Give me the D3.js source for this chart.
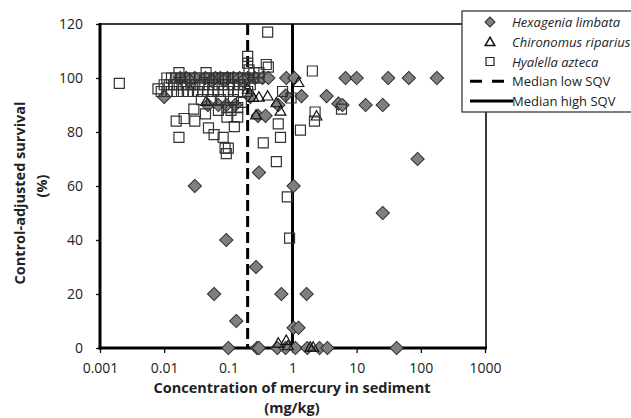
<!DOCTYPE html>
<html>
<head>
<meta charset="utf-8">
<script src="https://cdn.jsdelivr.net/npm/d3@7"></script>
<style>
  body { margin: 0; background: #fff; }
  svg text { font-family: "Open Sans", "Noto Sans", sans-serif; fill: #222; }
</style>
</head>
<body>
<div id="chart"></div>
<script>
// data (mg/kg, % survival)
const hexagenia = [
  [0.0178, 100], [0.022, 100], [0.03, 100], [0.044, 100], [0.063, 100], [0.075, 100],
  [0.097, 100], [0.12, 100], [0.15, 100], [0.2, 100], [0.26, 100], [0.34, 100],
  [0.42, 100], [0.8, 100], [1.07, 100], [6.7, 100], [10, 100], [31, 100], [65, 100], [178, 100],
  [0.025, 99], [0.055, 99], [0.085, 99], [0.17, 99],
  [0.01, 93], [0.22, 93], [0.78, 93.5], [1.38, 93.3], [3.4, 93.3],
  [0.048, 90], [0.07, 90], [0.093, 90], [0.128, 90], [0.6, 90], [5.2, 90.5], [6, 90],
  [13.8, 90], [25.5, 90], [0.29, 86], [0.38, 86],
  [89, 70], [25.5, 50], [0.3, 65], [0.03, 60], [1.04, 60], [0.093, 40], [0.27, 30],
  [0.06, 20], [0.67, 20], [1.66, 20], [0.133, 10], [1.04, 7.5], [1.24, 7.5],
  [0.1, 0], [0.28, 0], [0.3, 0], [0.58, 0], [0.78, 0], [1.11, 0], [1.7, 0], [2.64, 0], [3.5, 0], [42, 0]
]

const chironomus = [
  [0.045, 91], [0.2, 95.5], [0.245, 92.5], [0.27, 86], [0.3, 92.6], [0.41, 93], [0.56, 90.5],
  [0.65, 87.4], [1.24, 98], [2.37, 85.6], [0.6, 1.5], [0.8, 2.5], [0.85, 0.5], [1.9, 0], [2.1, 0]
]

const hyalella = [
  [0.002, 98], [0.008, 96], [0.41, 117], [0.0154, 84], [0.0205, 85], [0.029, 88.5], [0.03, 84],
  [0.044, 86.7], [0.017, 78], [0.049, 81.5], [0.06, 79], [0.083, 78], [0.124, 82], [0.089, 74],
  [0.1, 74], [0.093, 72], [0.35, 76], [0.65, 78], [0.56, 69], [0.83, 56], [0.9, 40.7],
  [1.33, 80.7], [2.04, 102.6], [2.25, 87.4], [2.2, 84], [5.8, 88.5], [0.6, 83], [0.7, 95],
  [0.95, 92.6], [0.42, 104],
  [0.2, 108], [0.2, 105.5], [0.21, 103], [0.39, 105], [0.3, 102], [0.25, 102], [0.017, 102], [0.045, 102],
  [0.011, 100], [0.013, 100], [0.015, 100], [0.018, 100], [0.021, 100], [0.025, 100], [0.03, 100],
  [0.036, 100], [0.045, 100], [0.05, 100], [0.06, 100], [0.07, 100], [0.08, 100], [0.09, 100],
  [0.1, 100], [0.12, 100], [0.14, 100], [0.17, 100], [0.2, 100], [0.25, 100], [0.3, 100],
  [0.01, 97.5], [0.012, 97.5], [0.014, 97.5], [0.016, 97.5], [0.019, 97.5], [0.022, 97.5],
  [0.026, 97.5], [0.03, 97.5], [0.035, 97.5], [0.04, 97.5], [0.05, 97.5], [0.06, 97.5],
  [0.07, 97.5], [0.08, 97.5], [0.1, 97.5], [0.12, 97.5], [0.15, 97.5], [0.18, 97.5], [0.22, 97.5],
  [0.009, 95], [0.011, 95], [0.013, 95], [0.016, 95], [0.02, 95], [0.024, 95], [0.028, 95],
  [0.033, 95], [0.04, 95], [0.048, 95], [0.058, 95], [0.07, 95], [0.085, 95], [0.1, 95],
  [0.12, 95], [0.14, 95], [0.2, 95],
  [0.095, 89], [0.14, 89], [0.095, 85.5], [0.14, 85.5], [0.11, 88], [0.07, 88],
  [0.055, 92], [0.075, 92], [0.12, 92], [0.16, 91], [0.038, 92]
]

const yTicks = [0, 20, 40, 60, 80, 100, 120]
const xTicks = [0.001, 0.01, 0.1, 1, 10, 100, 1000]
const xTickLabels = ['0.001', '0.01', '0.1', '1', '10', '100', '1000']
const lowSQV = 0.2
const highSQV = 1

const legendItems = ['Hexagenia limbata', 'Chironomus riparius', 'Hyalella azteca', 'Median low SQV', 'Median high SQV']

// layout
const width = 631
const height = 418
const plotLeft = 100, plotRight = 485, plotTop = 24, plotBottom = 348

const svg = d3.select('#chart').append('svg')
  .attr('width', width)
  .attr('height', height)

const x = d3.scaleLog().domain([0.001, 1000]).range([plotLeft, plotRight])
const y = d3.scaleLinear().domain([0, 120]).range([plotBottom, plotTop])

// plot frame (top / right)
svg.append('path')
  .attr('d', `M${plotLeft},${plotTop}H${plotRight + 1}V${plotBottom}`)
  .attr('fill', 'none')
  .attr('stroke', '#3a3a3a')
  .attr('stroke-width', 2)

// axes
const yAxis = svg.append('g')
  .attr('transform', `translate(${plotLeft},0)`)
  .call(d3.axisLeft(y).tickValues(yTicks).tickSize(4).tickSizeOuter(0).tickPadding(13))
yAxis.select('.domain').remove()
yAxis.selectAll('line').attr('stroke', '#111').attr('stroke-width', 1.3)
yAxis.selectAll('text').style('font-size', '14px').attr('fill', '#2a2a2a')

const xAxis = svg.append('g')
  .attr('transform', `translate(0,${plotBottom})`)
  .call(d3.axisBottom(x).tickValues(xTicks).tickFormat((d, i) => xTickLabels[i]).tickSize(5).tickSizeOuter(0).tickPadding(10))
xAxis.select('.domain').remove()
xAxis.selectAll('line').attr('stroke', '#111').attr('stroke-width', 1.3)
xAxis.selectAll('text').style('font-size', '14px').attr('fill', '#2a2a2a')

svg.append('line')
  .attr('x1', plotLeft).attr('x2', plotLeft).attr('y1', plotTop - 1).attr('y2', plotBottom + 1.5)
  .attr('stroke', '#000').attr('stroke-width', 3)
svg.append('line')
  .attr('x1', plotLeft - 1.5).attr('x2', plotRight + 2).attr('y1', plotBottom).attr('y2', plotBottom)
  .attr('stroke', '#000').attr('stroke-width', 3)

// SQV lines
svg.append('line')
  .attr('x1', x(lowSQV)).attr('x2', x(lowSQV)).attr('y1', plotTop).attr('y2', plotBottom)
  .attr('stroke', '#000').attr('stroke-width', 3)
  .attr('stroke-dasharray', '11,5')
svg.append('line')
  .attr('x1', x(highSQV)).attr('x2', x(highSQV)).attr('y1', plotTop).attr('y2', plotBottom)
  .attr('stroke', '#000').attr('stroke-width', 3)

// markers
const diamond = d3.symbol(d3.symbolSquare, 88)
const square = d3.symbol(d3.symbolSquare, 100)
const triangle = d3.symbol(d3.symbolTriangle, 50)

svg.append('g').selectAll('path')
  .data(hexagenia)
  .enter().append('path')
  .attr('d', diamond)
  .attr('transform', d => `translate(${x(d[0])},${y(d[1])}) rotate(45)`)
  .attr('fill', '#7f7f7f')
  .attr('stroke', '#2b2b2b')
  .attr('stroke-width', 1)

svg.append('g').selectAll('path')
  .data(chironomus)
  .enter().append('path')
  .attr('d', triangle)
  .attr('transform', d => `translate(${x(d[0])},${y(d[1])})`)
  .attr('fill', 'none')
  .attr('stroke', '#111')
  .attr('stroke-width', 1.2)

svg.append('g').selectAll('path')
  .data(hyalella)
  .enter().append('path')
  .attr('d', square)
  .attr('transform', d => `translate(${x(d[0])},${y(d[1])})`)
  .attr('fill', 'none')
  .attr('stroke', '#333')
  .attr('stroke-width', 1.2)

// axis titles
svg.append('text')
  .attr('x', 292).attr('y', 393)
  .attr('text-anchor', 'middle')
  .style('font-size', '14.5px').style('font-weight', 'bold')
  .text('Concentration of mercury in sediment')
svg.append('text')
  .attr('x', 292).attr('y', 413)
  .attr('text-anchor', 'middle')
  .style('font-size', '14.5px').style('font-weight', 'bold')
  .text('(mg/kg)')

svg.append('text')
  .attr('transform', 'translate(25,193) rotate(-90)')
  .attr('text-anchor', 'middle')
  .style('font-size', '14.5px').style('font-weight', 'bold')
  .text('Control-adjusted survival')
svg.append('text')
  .attr('transform', 'translate(47,186) rotate(-90)')
  .attr('text-anchor', 'middle')
  .style('font-size', '14.5px').style('font-weight', 'bold')
  .text('(%)')

// legend
const legend = svg.append('g')
legend.append('rect')
  .attr('x', 462).attr('y', 11).attr('width', 200).attr('height', 101)
  .attr('fill', '#fff').attr('stroke', '#3a3a3a').attr('stroke-width', 1.3)

const rowY = d3.scalePoint().domain(legendItems).range([22, 101])

legendItems.forEach(function (name, i) {
  const ly = rowY(name)
  if (i === 0)
    legend.append('path').attr('d', d3.symbol(d3.symbolSquare, 50))
      .attr('transform', `translate(490,${ly}) rotate(45)`)
      .attr('fill', '#7f7f7f').attr('stroke', '#2b2b2b')
  else if (i === 1)
    legend.append('path').attr('d', d3.symbol(d3.symbolTriangle, 40))
      .attr('transform', `translate(490,${ly + 1})`)
      .attr('fill', 'none').attr('stroke', '#111').attr('stroke-width', 1.5)
  else if (i === 2)
    legend.append('path').attr('d', d3.symbol(d3.symbolSquare, 64))
      .attr('transform', `translate(490,${ly})`)
      .attr('fill', 'none').attr('stroke', '#222').attr('stroke-width', 1.2)
  else
    legend.append('line')
      .attr('x1', 470).attr('x2', i === 3 ? 505 : 513).attr('y1', ly).attr('y2', ly)
      .attr('stroke', '#000').attr('stroke-width', 3)
      .attr('stroke-dasharray', i === 3 ? '12,10' : null)

  legend.append('text')
    .attr('x', 512).attr('y', ly + 5)
    .style('font-size', '13px')
    .style('font-style', i < 3 ? 'italic' : 'normal')
    .text(name)
})
</script>
</body>
</html>
